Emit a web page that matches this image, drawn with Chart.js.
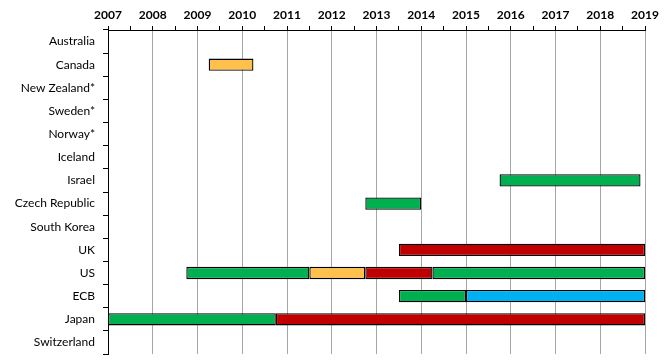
<!DOCTYPE html>
<html>
<head>
<meta charset="utf-8">
<script src="https://cdn.jsdelivr.net/npm/chart.js@4"></script>
<style>
  html, body { margin: 0; padding: 0; background: #fff; }
  #wrap { width: 665px; height: 363px; }
</style>
</head>
<body>
<div id="wrap"><canvas id="chart"></canvas></div>
<script>
// ─── Datos ──────────────────────────────────────────────────────────────────
const countries = ['Australia', 'Canada', 'New Zealand*', 'Sweden*', 'Norway*', 'Iceland',
  'Israel', 'Czech Republic', 'South Korea', 'UK', 'US', 'ECB', 'Japan', 'Switzerland'];

const yearMin = 2007;
const yearMax = 2019;

// tramos [inicio, fin] por fila; null = sin tramo
const greenFirst = [null, null, null, null, null, null,
  [2015.75, 2018.9], [2012.75, 2014], null, null, [2008.75, 2011.5], [2013.5, 2015], [2007, 2010.75], null];
const orangeSeg = [null, [2009.25, 2010.25], null, null, null, null,
  null, null, null, null, [2011.5, 2012.75], null, null, null];
const redSeg = [null, null, null, null, null, null,
  null, null, null, [2013.5, 2019], [2012.75, 2014.25], null, [2010.75, 2019], null];
const greenSecond = [null, null, null, null, null, null,
  null, null, null, null, [2014.25, 2019], null, null, null];
const blueSeg = [null, null, null, null, null, null,
  null, null, null, null, null, [2015, 2019], null, null];

const GREEN = '#00B050', ORANGE = '#FFC04C', RED = '#C00000', BLUE = '#00B0F0';

function seg(data, color) {
  return {
    data, backgroundColor: color, borderColor: '#000', borderWidth: 1.3,
    borderSkipped: false, grouped: false, barPercentage: 0.53, categoryPercentage: 1,
  };
}

const FONT = 'Lato, "Open Sans", sans-serif';

new Chart(document.getElementById('chart'), {
  type: 'bar',
  data: {
    labels: countries,
    datasets: [
      seg(greenFirst, GREEN),
      seg(orangeSeg, ORANGE),
      seg(redSeg, RED),
      seg(greenSecond, GREEN),
      seg(blueSeg, BLUE),
    ],
  },
  options: {
    indexAxis: 'y',
    responsive: true,
    maintainAspectRatio: false,
    animation: false,
    layout: { padding: { left: 0, right: 20, top: 0, bottom: 9 } },
    plugins: { legend: { display: false }, tooltip: { enabled: false } },
    scales: {
      x: {
        position: 'top',
        min: yearMin, max: yearMax,
        afterFit: s => { s.height = 30; s.paddingLeft = 0; s.paddingRight = 0; },
        border: { display: true, color: '#000', width: 1 },
        grid: {
          color: c => (c.tick && Number.isInteger(c.tick.value) ? '#A6A6A6' : 'rgba(0,0,0,0)'),
          tickColor: '#000',
          tickLength: 4,
          lineWidth: 1,
        },
        ticks: {
          stepSize: 0.5,
          autoSkip: false,
          maxRotation: 0,
          padding: 4,
          color: '#000',
          font: { family: FONT, size: 12, weight: 'bold' },
          callback: v => (Number.isInteger(v) ? String(v) : ''),
        },
      },
      y: {
        afterFit: s => { s.width = 108; s.paddingTop = 0; s.paddingBottom = 0; },
        border: { display: true, color: '#000', width: 1 },
        grid: {
          offset: true,
          drawOnChartArea: true,
          color: c => (c.index === countries.length ? '#808080' : 'rgba(0,0,0,0)'),
          tickColor: '#000',
          tickLength: 5,
        },
        ticks: {
          padding: 8,
          color: '#000',
          font: { family: FONT, size: 12 },
        },
      },
    },
  },
});
</script>
</body>
</html>
